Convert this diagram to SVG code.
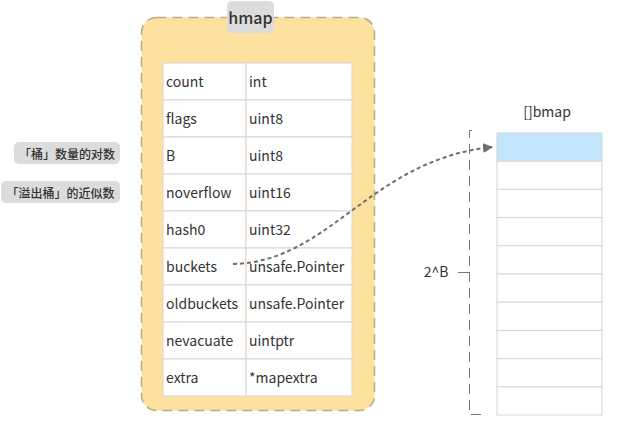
<svg xmlns="http://www.w3.org/2000/svg" width="623" height="436" viewBox="0 0 623 436">
<defs>
<marker id="ah" markerWidth="10" markerHeight="10" refX="9" refY="5" orient="auto" markerUnits="userSpaceOnUse">
<path d="M0,0 L10,5 L0,10 z" fill="#6e6e6e"/>
</marker>
</defs>
<style>
text{font-family:"Noto Sans CJK SC","Noto Sans",sans-serif;fill:#333;}
.t{font-size:14px;dominant-baseline:central;}
.c{fill:#fff;stroke:#d9d6cf;stroke-width:1;}
.b{fill:#fff;stroke:#d6d6d6;stroke-width:1;}
.lab{fill:#dcdcdc;}
.s{font-size:12px;dominant-baseline:central;font-weight:500;}
</style>
<rect width="623" height="436" fill="#fff"/>
<g id="hmap">
<rect x="141.5" y="17.5" width="233" height="393" rx="15" fill="#fde29f" stroke="#b8ab8a" stroke-width="1.5" stroke-dasharray="10 6"/>
<rect x="227" y="1" width="47" height="32" rx="5" class="lab"/>
<text x="250.5" y="17" class="t" text-anchor="middle" style="font-size:16px;font-weight:500">hmap</text>
<g id="table">
<rect x="163" y="63" width="83" height="37" class="c"/><rect x="246" y="63" width="106" height="37" class="c"/>
<rect x="163" y="100" width="83" height="37" class="c"/><rect x="246" y="100" width="106" height="37" class="c"/>
<rect x="163" y="137" width="83" height="37" class="c"/><rect x="246" y="137" width="106" height="37" class="c"/>
<rect x="163" y="174" width="83" height="37" class="c"/><rect x="246" y="174" width="106" height="37" class="c"/>
<rect x="163" y="211" width="83" height="37" class="c"/><rect x="246" y="211" width="106" height="37" class="c"/>
<rect x="163" y="248" width="83" height="37" class="c"/><rect x="246" y="248" width="106" height="37" class="c"/>
<rect x="163" y="285" width="83" height="37" class="c"/><rect x="246" y="285" width="106" height="37" class="c"/>
<rect x="163" y="322" width="83" height="37" class="c"/><rect x="246" y="322" width="106" height="37" class="c"/>
<rect x="163" y="359" width="83" height="37" class="c"/><rect x="246" y="359" width="106" height="37" class="c"/>
<text x="166" y="81" class="t">count</text><text x="249" y="81" class="t">int</text>
<text x="166" y="118" class="t">flags</text><text x="249" y="118" class="t">uint8</text>
<text x="166" y="155" class="t">B</text><text x="249" y="155" class="t">uint8</text>
<text x="166" y="192" class="t">noverflow</text><text x="249" y="192" class="t">uint16</text>
<text x="166" y="229" class="t">hash0</text><text x="249" y="229" class="t">uint32</text>
<text x="166" y="266" class="t">buckets</text><text x="249" y="266" class="t">unsafe.Pointer</text>
<text x="166" y="303" class="t">oldbuckets</text><text x="249" y="303" class="t">unsafe.Pointer</text>
<text x="166" y="340" class="t">nevacuate</text><text x="249" y="340" class="t">uintptr</text>
<text x="166" y="377" class="t">extra</text><text x="249" y="377" class="t">*mapextra</text>
</g>
</g>
<g id="note1">
<rect x="14" y="142" width="106" height="22" rx="5" class="lab"/>
<text x="67" y="153" class="s" text-anchor="middle">「桶」数量的对数</text>
</g>
<g id="note2">
<rect x="1" y="181" width="119" height="22" rx="5" class="lab"/>
<text x="60.5" y="192" class="s" text-anchor="middle">「溢出桶」的近似数</text>
</g>
<g id="bmap">
<text x="547" y="111" class="t" text-anchor="middle">[]bmap</text>
<rect x="497" y="133" width="105" height="28.2" fill="#c2e5fb" stroke="#d6d6d6"/>
<rect x="497" y="161.2" width="105" height="28.2" class="b"/>
<rect x="497" y="189.4" width="105" height="28.2" class="b"/>
<rect x="497" y="217.6" width="105" height="28.2" class="b"/>
<rect x="497" y="245.8" width="105" height="28.2" class="b"/>
<rect x="497" y="274" width="105" height="28.2" class="b"/>
<rect x="497" y="302.2" width="105" height="28.2" class="b"/>
<rect x="497" y="330.4" width="105" height="28.2" class="b"/>
<rect x="497" y="358.6" width="105" height="28.2" class="b"/>
<rect x="497" y="386.8" width="105" height="28.2" class="b"/>
</g>
<g id="bracket" stroke="#777" stroke-width="1" fill="none">
<path d="M472,130.5 H469.5 V414.5 H481" stroke-dasharray="10 6"/>
<path d="M469.5,272.5 H458"/>
<text x="436" y="271" class="t" text-anchor="middle" stroke="none" style="fill:#333">2^B</text>
</g>
<g id="connectors">
<path d="M233,264 C330,262 370,160 492,147" fill="none" stroke="#6e6e6e" stroke-width="2" stroke-dasharray="4 3" marker-end="url(#ah)"/>
</g>
</svg>
